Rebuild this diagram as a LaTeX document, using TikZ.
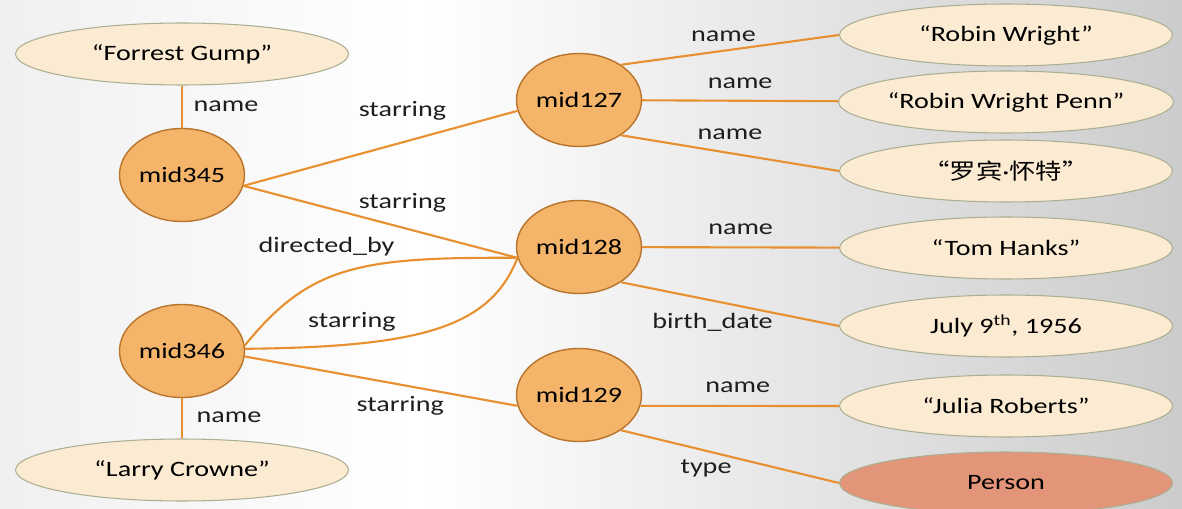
\documentclass[tikz,border=0pt]{standalone}
\usepackage{fontspec}
\setmainfont{Carlito}[FakeStretch=1.28]
\newfontfamily\cjk{Noto Sans CJK SC}[FakeStretch=1.2]
\usetikzlibrary{shapes.geometric}
\definecolor{linkorange}{HTML}{E8902F}
\definecolor{midfill}{HTML}{F4B469}
\definecolor{middraw}{HTML}{B8742C}
\definecolor{valfill}{HTML}{FCEBD3}
\definecolor{valdraw}{HTML}{ABAE92}
\definecolor{typefill}{HTML}{E3957A}
\definecolor{txtgray}{HTML}{1E1E1E}

\begin{document}
\begin{tikzpicture}[x=0.02cm, y=-0.02cm,
    mid/.style = {ellipse, draw=middraw, fill=midfill, line width=0.8pt, minimum width=2.5cm, minimum height=1.86cm, inner sep=0pt, font=\fontsize{12.5}{14}\selectfont},
    val/.style = {ellipse, draw=valdraw, fill=valfill, line width=0.6pt, minimum width=6.66cm, minimum height=1.24cm, inner sep=0pt, font=\fontsize{12.5}{14}\selectfont},
    link/.style = {draw=linkorange, line width=1.2pt},
    lbl/.style = {inner sep=0pt, text=txtgray, font=\fontsize{12.5}{14}\selectfont}
]

% Background
\useasboundingbox (0,0) rectangle (1182,509);
\shade[left color=gray!12, right color=white] (0,0) rectangle (420,509);
\shade[left color=white, right color=gray!40] (419,0) rectangle (1182,509);

% Films
\node[val] (fg) at (182,54) {“Forrest Gump”};
\node[mid] (m345) at (182,175) {mid345};
\node[mid] (m346) at (182,351) {mid346};
\node[val] (lc) at (182,470) {“Larry Crowne”};

% People
\node[mid] (m127) at (579,100) {mid127};
\node[mid] (m128) at (579,247) {mid128};
\node[mid] (m129) at (579,395) {mid129};

% Values
\node[val] (rw) at (1006,35) {“Robin Wright”};
\node[val] (rwp) at (1006,102) {“Robin Wright Penn”};
\node[val] (luo) at (1006,171) {\cjk “罗宾\textrm{·}怀特”};
\node[val] (th) at (1006,248) {“Tom Hanks”};
\node[val] (july) at (1006,326) {July 9\textsuperscript{th}, 1956};
\node[val] (jr) at (1006,406) {“Julia Roberts”};
\node[val, fill=typefill] (person) at (1006,483) {Person};

% Film links
\draw[link] (m345) -- node[lbl, shift={(44,0)}] {name} (fg);
\draw[link] (m346) -- node[lbl, shift={(47,-1)}] {name} (lc);
\draw[link] (m345.-10) -- node[lbl, pos=0.58, shift={(0,-32)}] {starring} (m127.190);
\draw[link] (m345.-10) -- node[lbl, pos=0.58, shift={(0,-25)}] {starring} (m128.190);
\draw[link] (m346.5) .. controls (310,265) and (360,257) .. node[lbl, shift={(-20,-25)}] {directed\_by} (m128.190);
\draw[link] (m346.2) .. controls (420,347) and (490,328) .. node[lbl, pos=0.3, shift={(-24,-20)}] {starring} (m128.190);
\draw[link] (m346.-5) -- node[lbl, pos=0.57, shift={(0,21)}] {starring} (m129.190);

% Person links
\draw[link] (m127.40) -- node[lbl, pos=0.47, shift={(0,-15)}] {name} (rw.west);
\draw[link] (m127) -- node[lbl, shift={(0,-18)}] {name} (rwp);
\draw[link] (m127.-40) -- node[lbl, pos=0.5, shift={(0,-19)}] {name} (luo.west);
\draw[link] (m128) -- node[lbl, shift={(0,-18)}] {name} (th);
\draw[link] (m128.-40) -- node[lbl, pos=0.42, shift={(0,22)}] {birth\_date} (july.west);
\draw[link] (m129.-10) -- node[lbl, pos=0.49, shift={(0,-19)}] {name} (jr.west);
\draw[link] (m129.-40) -- node[lbl, pos=0.39, shift={(0,18)}] {type} (person.west);

\end{tikzpicture}
\end{document}
